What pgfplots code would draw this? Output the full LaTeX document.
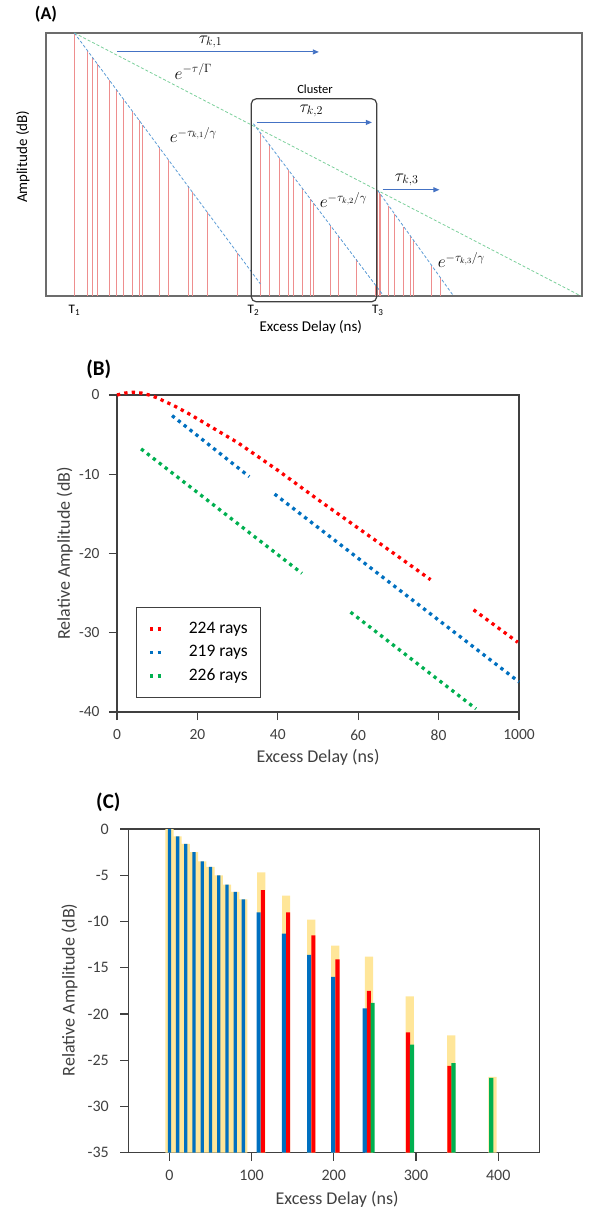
\documentclass[border=0pt]{standalone}
\usepackage{fontspec}
\setmainfont{Carlito}
\usepackage{pgfplots}
\pgfplotsset{compat=1.18}
\usetikzlibrary{arrows.meta}

\definecolor{stemred}{HTML}{EE8E8E}
\definecolor{decayblue}{HTML}{5B9BD5}
\definecolor{decaygreen}{HTML}{7ACF9A}
\definecolor{arrowblue}{HTML}{4472C4}
\definecolor{rayred}{HTML}{FF0000}
\definecolor{rayblue}{HTML}{0070C0}
\definecolor{raygreen}{HTML}{00B050}
\definecolor{clustery}{HTML}{FFE699}
\definecolor{frame}{HTML}{404040}

\newcommand{\fs}[2]{\fontsize{#1}{#2}\selectfont}

\pgfplotsset{
  dots/.style={line width=3.3pt, dash pattern=on 3.3pt off 4.2pt},
  decay/.style={line width=0.8pt, dash pattern=on 3pt off 2pt},
}
\tikzset{
  tau/.style={arrowblue, line width=0.9pt, -{Triangle[length=6pt,width=5pt]}},
  lab/.style={font=\fs{17}{20}},
}

\begin{document}
\begin{tikzpicture}
\path[use as bounding box] (0,0) rectangle (595pt,-1211pt);

% ---------------- (A) schematic ----------------
\node[font=\bfseries\fs{18}{22}] at (46pt,-13.7pt) {(A)};
\begin{axis}[
  at={(46pt,-296pt)}, anchor=south west,
  scale only axis, width=536pt, height=263pt,
  xmin=0, xmax=100, ymin=0, ymax=100,
  clip=false,
  axis line style={draw=gray!85!black, line width=1.3pt},
  xtick={5.3,38.7,61.9},
  xticklabels={T\textsubscript{1},T\textsubscript{2},T\textsubscript{3}},
  ytick=\empty, major tick length=0pt,
  xticklabel style={font=\fs{13}{15}, anchor=center, yshift=-14pt},
  label style={font=\fs{15}{18}},
  xlabel={Excess Delay (ns)}, ylabel={Amplitude (dB)},
  xlabel style={at={(axis description cs:0.494,-0.118)}, anchor=center},
  ylabel style={at={(axis description cs:-0.043,0.529)}, anchor=center},
]
% first cluster
\addplot[ycomb, stemred, line width=0.8pt] coordinates {
  (5.3,100) (7.8,93.1) (8.72,90.6) (9.64,88.1) (11.76,82.2) (13.18,78.3)
  (14.39,75.0) (16.09,70.3) (17.36,66.8) (18.0,65.1) (21.12,56.5)
  (22.89,51.6) (26.51,41.7) (27.29,39.5) (30.05,31.9) (35.65,16.5)};
% second cluster
\addplot[ycomb, stemred, line width=0.8pt] coordinates {
  (39.97,62.1) (41.6,57.7) (43.52,52.5) (45.14,48.1) (46.21,45.2)
  (47.91,40.6) (49.26,37.0) (49.89,35.3) (53.08,26.7) (54.64,22.5)
  (57.83,13.9) (61.52,3.9)};
% third cluster
\addplot[ycomb, stemred, line width=0.8pt] coordinates {
  (61.87,40.1) (62.23,39.2) (62.44,38.6) (63.93,34.3) (65.06,31.1)
  (66.76,26.2) (67.97,22.7) (68.46,21.3) (71.93,11.4) (73.56,6.8)};
\addplot[decay, decaygreen] coordinates {(5.3,100) (99.8,0)};
\addplot[decay, decayblue] coordinates {(5.3,100) (40.0,4.6)};
\addplot[decay, decayblue] coordinates {(38.7,65.5) (62.9,0.3)};
\addplot[decay, decayblue] coordinates {(61.9,40.1) (75.9,0.4)};

\draw[frame, line width=1.2pt, rounded corners=5pt]
  (axis cs:38.3,-2.2) rectangle (axis cs:61.7,75);
\node[font=\fs{12.5}{15}] at (axis cs:50.2,78.8) {Cluster};

\draw[tau] (axis cs:13.3,92.8) -- (axis cs:50.9,92.8);
\draw[tau] (axis cs:39.3,66.0) -- (axis cs:60.8,66.0);
\draw[tau] (axis cs:62.8,40.4) -- (axis cs:73.4,40.4);
\node[lab] at (axis cs:30.7,96.6) {$\tau_{k,1}$};
\node[lab] at (axis cs:49.5,70.4) {$\tau_{k,2}$};
\node[lab] at (axis cs:67.3,44.2) {$\tau_{k,3}$};
\node[lab] at (axis cs:27.5,85.4) {$e^{-\tau/\Gamma}$};
\node[lab] at (axis cs:27.5,61.3) {$e^{-\tau_{k,1}/\gamma}$};
\node[lab] at (axis cs:55.5,36.5) {$e^{-\tau_{k,2}/\gamma}$};
\node[lab] at (axis cs:77.5,13.7) {$e^{-\tau_{k,3}/\gamma}$};
\end{axis}

% ---------------- (B) ray power profiles ----------------
\node[font=\bfseries\fs{21}{25}] at (98.7pt,-369pt) {(B)};
\begin{axis}[
  at={(117pt,-712pt)}, anchor=south west,
  scale only axis, width=402pt, height=317pt,
  xmin=0, xmax=100, ymin=-40, ymax=0,
  clip=false,
  axis line style={draw=frame, line width=1.2pt},
  tick style={draw=frame, line width=1.2pt},
  tick align=outside, tick pos=left, major tick length=8pt,
  xtick={0,20,40,60,80,100}, xticklabels={0,20,40,60,80,1000},
  ytick={-40,-30,-20,-10,0}, yticklabels={-40,-30,-20,-10,0},
  tick label style={font=\fs{15.5}{18}, text=frame},
  xticklabel style={anchor=center, yshift=-15pt},
  yticklabel style={anchor=east, xshift=-6pt},
  label style={font=\fs{18}{22}, text=frame},
  xlabel={Excess Delay (ns)}, ylabel={Relative Amplitude (dB)},
  xlabel style={at={(axis description cs:0.5,-0.142)}, anchor=center},
  ylabel style={at={(axis description cs:-0.130,0.5)}, anchor=center},
  legend image code/.code={\draw[#1] (0pt,0pt) -- (13pt,0pt);},
  legend cell align=left,
  legend style={at={(0.047,0.044)}, anchor=south west, draw=frame,
    line width=1.2pt, font=\fs{17.5}{21}, inner xsep=12pt, inner ysep=13pt,
    row sep=6.5pt, nodes={inner sep=1pt, text height=12pt, text depth=3pt},
    /tikz/every odd column/.append style={column sep=23pt}},
]
\addplot[dots, rayred] coordinates {
  (0,0) (2,0.25) (4,0.35) (6,0.25) (8,0) (10,-0.35) (12,-0.85) (14,-1.3)
  (16,-1.85) (18,-2.4) (20,-3.0) (30,-6.0) (40,-9.5) (50,-13.2)
  (60,-16.8) (70,-20.4) (78,-23.3)};
\addplot[dots, rayblue] coordinates {(13.7,-2.6) (32.9,-10.3)};
\addplot[dots, raygreen] coordinates {(6.0,-6.8) (46.0,-22.5)};
\addplot[dots, rayred, forget plot] coordinates {(88.7,-27.1) (99.7,-31.2)};
\addplot[dots, rayblue, forget plot] coordinates {(39.2,-12.5) (100,-36.2)};
\addplot[dots, raygreen, forget plot] coordinates {(58.1,-27.4) (89.3,-39.6)};
\legend{224 rays, 219 rays, 226 rays}
\end{axis}

% ---------------- (C) clustered bars ----------------
\node[font=\bfseries\fs{21}{25}] at (108.3pt,-802pt) {(C)};
\begin{axis}[
  at={(128.3pt,-1152.7pt)}, anchor=south west,
  scale only axis, width=411pt, height=323.7pt,
  xmin=-50, xmax=450, ymin=0, ymax=35,
  y filter/.expression={y+35},
  axis line style={draw=frame, line width=1.2pt},
  tick style={draw=frame, line width=1.2pt},
  tick align=outside, tick pos=left, major tick length=8pt,
  xtick={0,100,200,300,400}, xticklabels={0,100,200,300,400},
  ytick={0,5,...,35}, yticklabels={-35,-30,-25,-20,-15,-10,-5,0},
  tick label style={font=\fs{16}{19}, text=frame},
  xticklabel style={anchor=center, yshift=-15pt},
  yticklabel style={anchor=east, xshift=-8pt},
  label style={font=\fs{18}{22}, text=frame},
  xlabel={Excess Delay (ns)}, ylabel={Relative Amplitude (dB)},
  xlabel style={at={(axis description cs:0.508,-0.143)}, anchor=center},
  ylabel style={at={(axis description cs:-0.143,0.503)}, anchor=center},
]
\addplot[ybar, bar width=10, bar shift=0pt, fill=clustery, draw=none] coordinates {
  (0,0) (10,-0.8) (20,-1.6) (30,-2.5) (40,-3.5) (50,-4.1) (60,-5.0)
  (70,-6.0) (80,-6.8) (90,-7.6) (111.7,-4.7) (142,-7.2) (172.7,-9.8)
  (201.8,-12.6) (242.7,-13.8) (292.5,-18.1) (343,-22.3) (393,-26.8)};
\addplot[ybar, bar width=4, bar shift=0pt, fill=rayblue, draw=none] coordinates {
  (0,0) (10,-0.8) (20,-1.6) (30,-2.5) (40,-3.5) (50,-4.1) (60,-5.0)
  (70,-6.0) (80,-6.8) (90,-7.6)};
\addplot[ybar, bar width=5, bar shift=0pt, fill=rayblue, draw=none] coordinates {
  (108.5,-9.0) (139.4,-11.3) (170,-13.6) (199.3,-16.0) (237.7,-19.4)};
\addplot[ybar, bar width=5, bar shift=0pt, fill=rayred, draw=none] coordinates {
  (113.8,-6.6) (144.5,-9.0) (175.2,-11.5) (204.5,-14.1) (242.6,-17.5)
  (290.3,-22.0) (340.8,-25.6)};
\addplot[ybar, bar width=5, bar shift=0pt, fill=raygreen, draw=none] coordinates {
  (247.3,-18.8) (295.2,-23.3) (345.6,-25.3) (391.5,-26.9)};
\end{axis}
\end{tikzpicture}
\end{document}
